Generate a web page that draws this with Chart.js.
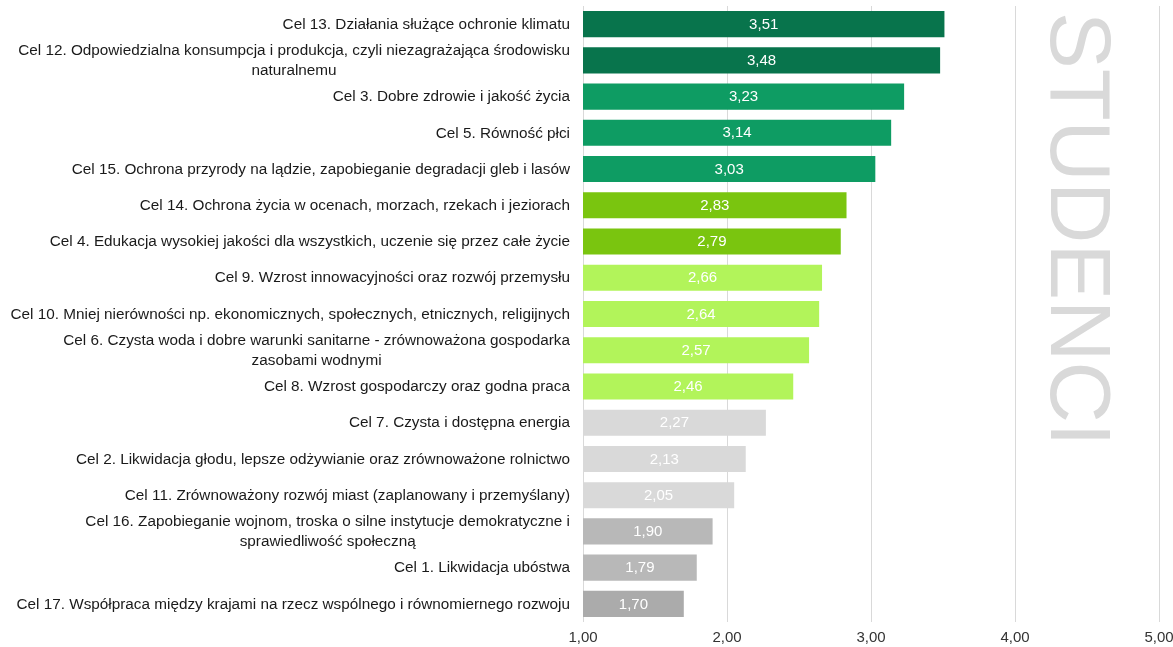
<!DOCTYPE html>
<html>
<head>
    <meta charset="utf-8">
    <title>Cele zrównoważonego rozwoju - studenci</title>
    <script src="https://cdn.jsdelivr.net/npm/chart.js"></script>
</head>
<body style="margin:0; background-color:white;">
<div style="width:1173px; height:647px; position:relative;">
    <canvas id="myChart"></canvas>
</div>
<script>
    // kategorie (linie etykiet) i srednie oceny
    const labels = [
        ['Cel 13. Działania służące ochronie klimatu'],
        ['Cel 12. Odpowiedzialna konsumpcja i produkcja, czyli niezagrażająca środowisku', 'naturalnemu'],
        ['Cel 3. Dobre zdrowie i jakość życia'],
        ['Cel 5. Równość płci'],
        ['Cel 15. Ochrona przyrody na lądzie, zapobieganie degradacji gleb i lasów'],
        ['Cel 14. Ochrona życia w ocenach, morzach, rzekach i jeziorach'],
        ['Cel 4. Edukacja wysokiej jakości dla wszystkich, uczenie się przez całe życie'],
        ['Cel 9. Wzrost innowacyjności oraz rozwój przemysłu'],
        ['Cel 10. Mniej nierówności np. ekonomicznych, społecznych, etnicznych, religijnych'],
        ['Cel 6. Czysta woda i dobre warunki sanitarne - zrównoważona gospodarka', 'zasobami wodnymi'],
        ['Cel 8. Wzrost gospodarczy oraz godna praca'],
        ['Cel 7. Czysta i dostępna energia'],
        ['Cel 2. Likwidacja głodu, lepsze odżywianie oraz zrównoważone rolnictwo'],
        ['Cel 11. Zrównoważony rozwój miast (zaplanowany i przemyślany)'],
        ['Cel 16. Zapobieganie wojnom, troska o silne instytucje demokratyczne i', 'sprawiedliwość społeczną'],
        ['Cel 1. Likwidacja ubóstwa'],
        ['Cel 17. Współpraca między krajami na rzecz wspólnego i równomiernego rozwoju']
    ];
    const values = [3.51, 3.48, 3.23, 3.14, 3.03, 2.83, 2.79, 2.66, 2.64, 2.57, 2.46, 2.27, 2.13, 2.05, 1.90, 1.79, 1.70];
    const barColors = [
        '#08744c', '#08744c',
        '#0e9c63', '#0e9c63', '#0e9c63',
        '#7ac50f', '#7ac50f',
        '#b2f45a', '#b2f45a', '#b2f45a', '#b2f45a',
        '#d9d9d9', '#d9d9d9', '#d9d9d9',
        '#b8b8b8', '#b8b8b8',
        '#ababab'
    ];
    const xTicks = [1, 2, 3, 4, 5];
    const sideTitle = 'STUDENCI';

    const fmt = v => v.toFixed(2).replace('.', ',');
    const FONT = '"Liberation Sans", Arial, sans-serif';

    // etykiety osi Y: blok wyrownany do prawej, linie wysrodkowane
    const yLabelsPlugin = {
        id: 'yLabels',
        afterDraw(chart) {
            const ctx = chart.ctx;
            const y = chart.scales.y;
            ctx.save();
            ctx.font = '15.3px ' + FONT;
            ctx.fillStyle = '#1a1a1a';
            ctx.textAlign = 'center';
            ctx.textBaseline = 'middle';
            const lineH = 20;
            labels.forEach((lines, i) => {
                const yc = y.getPixelForValue(i);
                const w = Math.max(...lines.map(l => ctx.measureText(l).width));
                const cx = chart.chartArea.left - 13 - w / 2;
                lines.forEach((l, j) => {
                    ctx.fillText(l, cx, yc + 0.5 + (j - (lines.length - 1) / 2) * lineH);
                });
            });
            ctx.restore();
        }
    };

    const valueLabelsPlugin = {
        id: 'valueLabels',
        afterDatasetsDraw(chart) {
            const ctx = chart.ctx;
            const meta = chart.getDatasetMeta(0);
            const left = chart.scales.x.getPixelForValue(chart.scales.x.min);
            ctx.save();
            ctx.font = '15px ' + FONT;
            ctx.fillStyle = '#ffffff';
            ctx.textAlign = 'center';
            ctx.textBaseline = 'middle';
            meta.data.forEach((bar, i) => {
                ctx.fillText(fmt(values[i]), (bar.x + left) / 2, bar.y + 0.5);
            });
            ctx.restore();
        }
    };

    const sideTitlePlugin = {
        id: 'sideTitle',
        afterDraw(chart) {
            const ctx = chart.ctx;
            const x = chart.scales.x;
            ctx.save();
            ctx.font = '85px ' + FONT;
            ctx.fillStyle = '#d9d9d9';
            ctx.textBaseline = 'alphabetic';
            ctx.textAlign = 'left';
            ctx.translate(x.getPixelForValue(4) + 36, chart.chartArea.top + 6);
            ctx.rotate(Math.PI / 2);
            ctx.fillText(sideTitle, 0, 0);
            ctx.restore();
        }
    };

    const ctx = document.getElementById('myChart').getContext('2d');
    window.myChart = new Chart(ctx, {
        type: 'bar',
        data: {
            labels: labels,
            datasets: [{
                data: values,
                backgroundColor: barColors,
                borderWidth: 0,
                barPercentage: 0.9,
                categoryPercentage: 0.8
            }]
        },
        options: {
            indexAxis: 'y',
            animation: false,
            responsive: true,
            maintainAspectRatio: false,
            layout: { padding: { top: 6, bottom: 0, left: 0, right: 0 } },
            plugins: {
                legend: { display: false },
                tooltip: { enabled: false }
            },
            scales: {
                x: {
                    min: 1,
                    max: 5,
                    afterBuildTicks: scale => { scale.ticks = xTicks.map(v => ({ value: v })); },
                    afterFit: scale => { scale.height = 25; scale.paddingRight = 14; },
                    grid: { color: '#d9d9d9', lineWidth: 1, drawTicks: false },
                    border: { display: false },
                    ticks: {
                        padding: 7,
                        color: '#333333',
                        font: { family: FONT, size: 15 },
                        callback: v => fmt(v)
                    }
                },
                y: {
                    grid: { display: false },
                    border: { display: false },
                    ticks: { display: false },
                    afterFit: scale => { scale.width = 583; }
                }
            }
        },
        plugins: [yLabelsPlugin, valueLabelsPlugin, sideTitlePlugin]
    });
</script>
</body>
</html>
